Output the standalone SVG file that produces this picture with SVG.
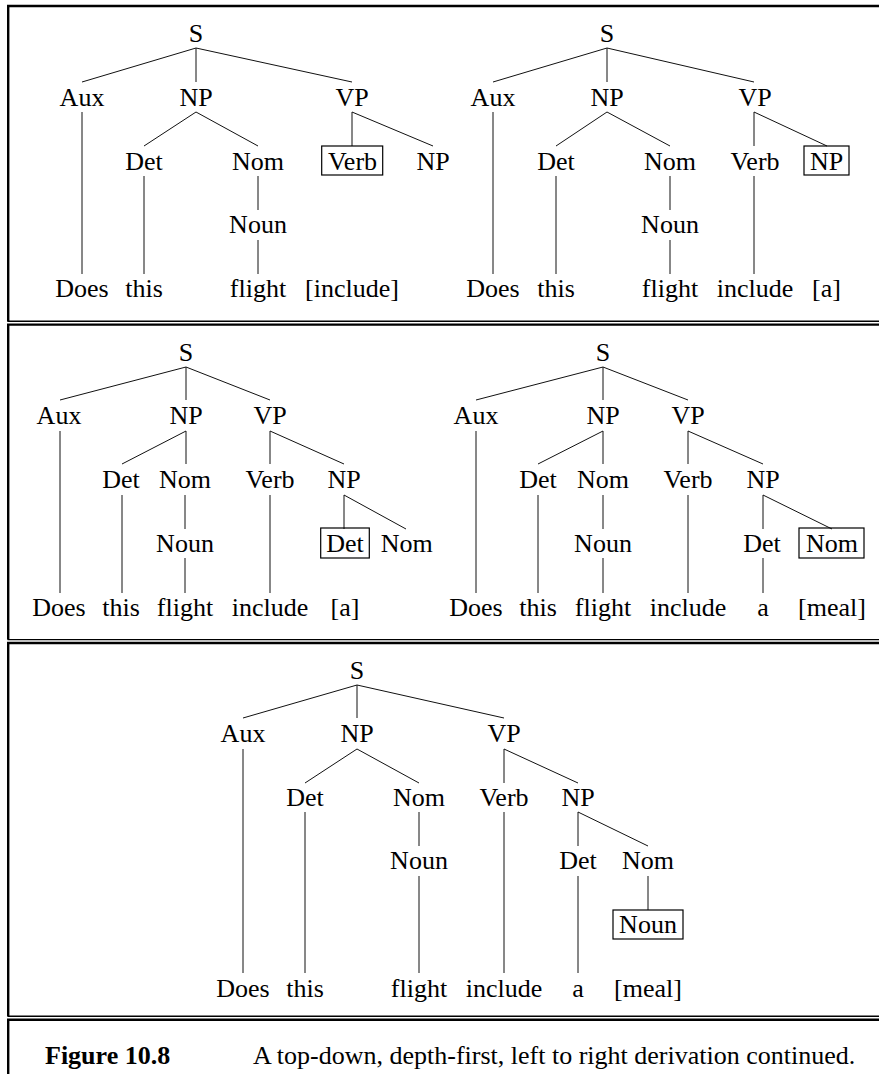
<svg xmlns="http://www.w3.org/2000/svg" width="879" height="1074" viewBox="0 0 879 1074">
<style>
.t{font-family:"Liberation Serif","Times New Roman",serif;font-size:26px;text-anchor:middle;fill:#000}
.e{stroke:#111;stroke-width:1;fill:none}
.bx{fill:none;stroke:#000;stroke-width:1.2}
.thick{stroke:#000;stroke-width:2.4;fill:none}
.thin{stroke:#000;stroke-width:1.4;fill:none}
.cap{font-family:"Liberation Serif","Times New Roman",serif;font-size:26px;fill:#000}
</style>
<rect width="879" height="1074" fill="#fff"/>
<g id="frame">
<path class="thick" d="M7,6H879 M8.2,5V321.5"/>
<path class="thin" d="M7.5,321.3H879"/>
<path class="thick" d="M7,324.6H879 M8.2,323.5V639.5"/>
<path class="thin" d="M7.5,639.6H879"/>
<path class="thick" d="M7,643H879 M8.2,642V1016.3"/>
<path class="thin" d="M7.5,1016.3H879"/>
<path class="thick" d="M7,1019.8H879 M8.2,1018.7V1074"/>
</g>
<g id="connectors">
<!-- panel 1 -->
<path class="e" d="M196,48L82,82M196,48V82M196,48L352,82M82,112V274M196,112L144,146M196,112L258,146M352,112V146M352,112L433,146M144,176V274M258,176V210M258,240V274"/>
<!-- panel 2 -->
<path class="e" d="M607,48L493,82M607,48V82M607,48L754,82M493,112V274M607,112L556,146M607,112L670,146M754,112V146M754,112L827,146M556,176V274M670,176V210M670,240V274M754,176V274"/>
<!-- panel 3 -->
<path class="e" d="M186,367L60,400M186,367V400M186,367L270,400M60,431V593M186,431L122,464M186,431V464M270,431V464M270,431L344,464M122,495V593M185,495V529M185,558V593M270,495V593M344,495V529M344,495L406,529"/>
<!-- panel 4 -->
<path class="e" d="M603,367L476,400M603,367V400M603,367L688,400M476,431V593M603,431L538,464M603,431V464M688,431V464M688,431L763,464M538,495V593M603,495V529M603,558V593M688,495V593M763,495V529M763,495L832,529M763,558V593"/>
<!-- panel 5 -->
<path class="e" d="M357,685L243,718M357,685V718M357,685L504,718M243,749V973M357,749L305,783M357,749L419,783M504,749V783M504,749L578,783M305,812V973M419,812V846M504,812V973M578,812V846M578,812L648,846M419,876V973M578,876V973M648,876V910"/>
</g>
<!-- panel 1 nodes -->
<g id="p1-S"><text class="t" x="196" y="42">S</text></g>
<g id="p1-Aux"><text class="t" x="82" y="106">Aux</text></g>
<g id="p1-NP"><text class="t" x="196" y="106">NP</text></g>
<g id="p1-VP"><text class="t" x="352" y="106">VP</text></g>
<g id="p1-Det"><text class="t" x="144" y="170">Det</text></g>
<g id="p1-Nom"><text class="t" x="258" y="170">Nom</text></g>
<g id="p1-Verb"><rect class="bx" x="321.7" y="146" width="61" height="29"/><text class="t" x="352.5" y="170">Verb</text></g>
<g id="p1-NP2"><text class="t" x="433" y="170">NP</text></g>
<g id="p1-Noun"><text class="t" x="258" y="233">Noun</text></g>
<g id="p1-Does"><text class="t" x="82" y="297">Does</text></g>
<g id="p1-this"><text class="t" x="144" y="297">this</text></g>
<g id="p1-flight"><text class="t" x="258" y="297">flight</text></g>
<g id="p1-include"><text class="t" x="352" y="297">[include]</text></g>
<!-- panel 2 nodes -->
<g id="p2-S"><text class="t" x="607" y="42">S</text></g>
<g id="p2-Aux"><text class="t" x="493" y="106">Aux</text></g>
<g id="p2-NP"><text class="t" x="607" y="106">NP</text></g>
<g id="p2-VP"><text class="t" x="755" y="106">VP</text></g>
<g id="p2-Det"><text class="t" x="556" y="170">Det</text></g>
<g id="p2-Nom"><text class="t" x="670" y="170">Nom</text></g>
<g id="p2-Verb"><text class="t" x="755" y="170">Verb</text></g>
<g id="p2-NP2"><rect class="bx" x="804" y="146" width="45" height="29"/><text class="t" x="826.7" y="170">NP</text></g>
<g id="p2-Noun"><text class="t" x="670" y="233">Noun</text></g>
<g id="p2-Does"><text class="t" x="493" y="297">Does</text></g>
<g id="p2-this"><text class="t" x="556" y="297">this</text></g>
<g id="p2-flight"><text class="t" x="670" y="297">flight</text></g>
<g id="p2-include"><text class="t" x="755" y="297">include</text></g>
<g id="p2-a"><text class="t" x="826.5" y="297">[a]</text></g>
<!-- panel 3 nodes -->
<g id="p3-S"><text class="t" x="186" y="361">S</text></g>
<g id="p3-Aux"><text class="t" x="59" y="424">Aux</text></g>
<g id="p3-NP"><text class="t" x="186" y="424">NP</text></g>
<g id="p3-VP"><text class="t" x="270" y="424">VP</text></g>
<g id="p3-Det"><text class="t" x="121" y="488">Det</text></g>
<g id="p3-Nom"><text class="t" x="185" y="488">Nom</text></g>
<g id="p3-Verb"><text class="t" x="270" y="488">Verb</text></g>
<g id="p3-NP2"><text class="t" x="344" y="488">NP</text></g>
<g id="p3-Noun"><text class="t" x="185" y="552">Noun</text></g>
<g id="p3-Det2"><rect class="bx" x="320.7" y="528" width="48.6" height="30"/><text class="t" x="345" y="552">Det</text></g>
<g id="p3-Nom2"><text class="t" x="406.7" y="552">Nom</text></g>
<g id="p3-Does"><text class="t" x="59" y="616">Does</text></g>
<g id="p3-this"><text class="t" x="121" y="616">this</text></g>
<g id="p3-flight"><text class="t" x="185" y="616">flight</text></g>
<g id="p3-include"><text class="t" x="270" y="616">include</text></g>
<g id="p3-a"><text class="t" x="345" y="616">[a]</text></g>
<!-- panel 4 nodes -->
<g id="p4-S"><text class="t" x="603" y="361">S</text></g>
<g id="p4-Aux"><text class="t" x="476" y="424">Aux</text></g>
<g id="p4-NP"><text class="t" x="603" y="424">NP</text></g>
<g id="p4-VP"><text class="t" x="688" y="424">VP</text></g>
<g id="p4-Det"><text class="t" x="538" y="488">Det</text></g>
<g id="p4-Nom"><text class="t" x="603" y="488">Nom</text></g>
<g id="p4-Verb"><text class="t" x="688" y="488">Verb</text></g>
<g id="p4-NP2"><text class="t" x="763" y="488">NP</text></g>
<g id="p4-Noun"><text class="t" x="603" y="552">Noun</text></g>
<g id="p4-Det2"><text class="t" x="762" y="552">Det</text></g>
<g id="p4-Nom2"><rect class="bx" x="799" y="528" width="65" height="30"/><text class="t" x="832" y="552">Nom</text></g>
<g id="p4-Does"><text class="t" x="476" y="616">Does</text></g>
<g id="p4-this"><text class="t" x="538" y="616">this</text></g>
<g id="p4-flight"><text class="t" x="603" y="616">flight</text></g>
<g id="p4-include"><text class="t" x="688" y="616">include</text></g>
<g id="p4-a"><text class="t" x="763" y="616">a</text></g>
<g id="p4-meal"><text class="t" x="832" y="616">[meal]</text></g>
<!-- panel 5 nodes -->
<g id="p5-S"><text class="t" x="357" y="679">S</text></g>
<g id="p5-Aux"><text class="t" x="243" y="742">Aux</text></g>
<g id="p5-NP"><text class="t" x="357" y="742">NP</text></g>
<g id="p5-VP"><text class="t" x="504" y="742">VP</text></g>
<g id="p5-Det"><text class="t" x="305" y="806">Det</text></g>
<g id="p5-Nom"><text class="t" x="419" y="806">Nom</text></g>
<g id="p5-Verb"><text class="t" x="504" y="806">Verb</text></g>
<g id="p5-NP2"><text class="t" x="578" y="806">NP</text></g>
<g id="p5-Noun"><text class="t" x="419" y="869">Noun</text></g>
<g id="p5-Det2"><text class="t" x="578" y="869">Det</text></g>
<g id="p5-Nom2"><text class="t" x="648" y="869">Nom</text></g>
<g id="p5-Noun2"><rect class="bx" x="613" y="910" width="70" height="29"/><text class="t" x="648" y="933">Noun</text></g>
<g id="p5-Does"><text class="t" x="243" y="997">Does</text></g>
<g id="p5-this"><text class="t" x="305" y="997">this</text></g>
<g id="p5-flight"><text class="t" x="419" y="997">flight</text></g>
<g id="p5-include"><text class="t" x="504" y="997">include</text></g>
<g id="p5-a"><text class="t" x="578" y="997">a</text></g>
<g id="p5-meal"><text class="t" x="648" y="997">[meal]</text></g>
<g id="caption">
<text class="cap" x="45" y="1064" font-weight="bold">Figure 10.8</text>
<text class="cap" x="253" y="1064">A top-down, depth-first, left to right derivation continued.</text>
</g>
</svg>
